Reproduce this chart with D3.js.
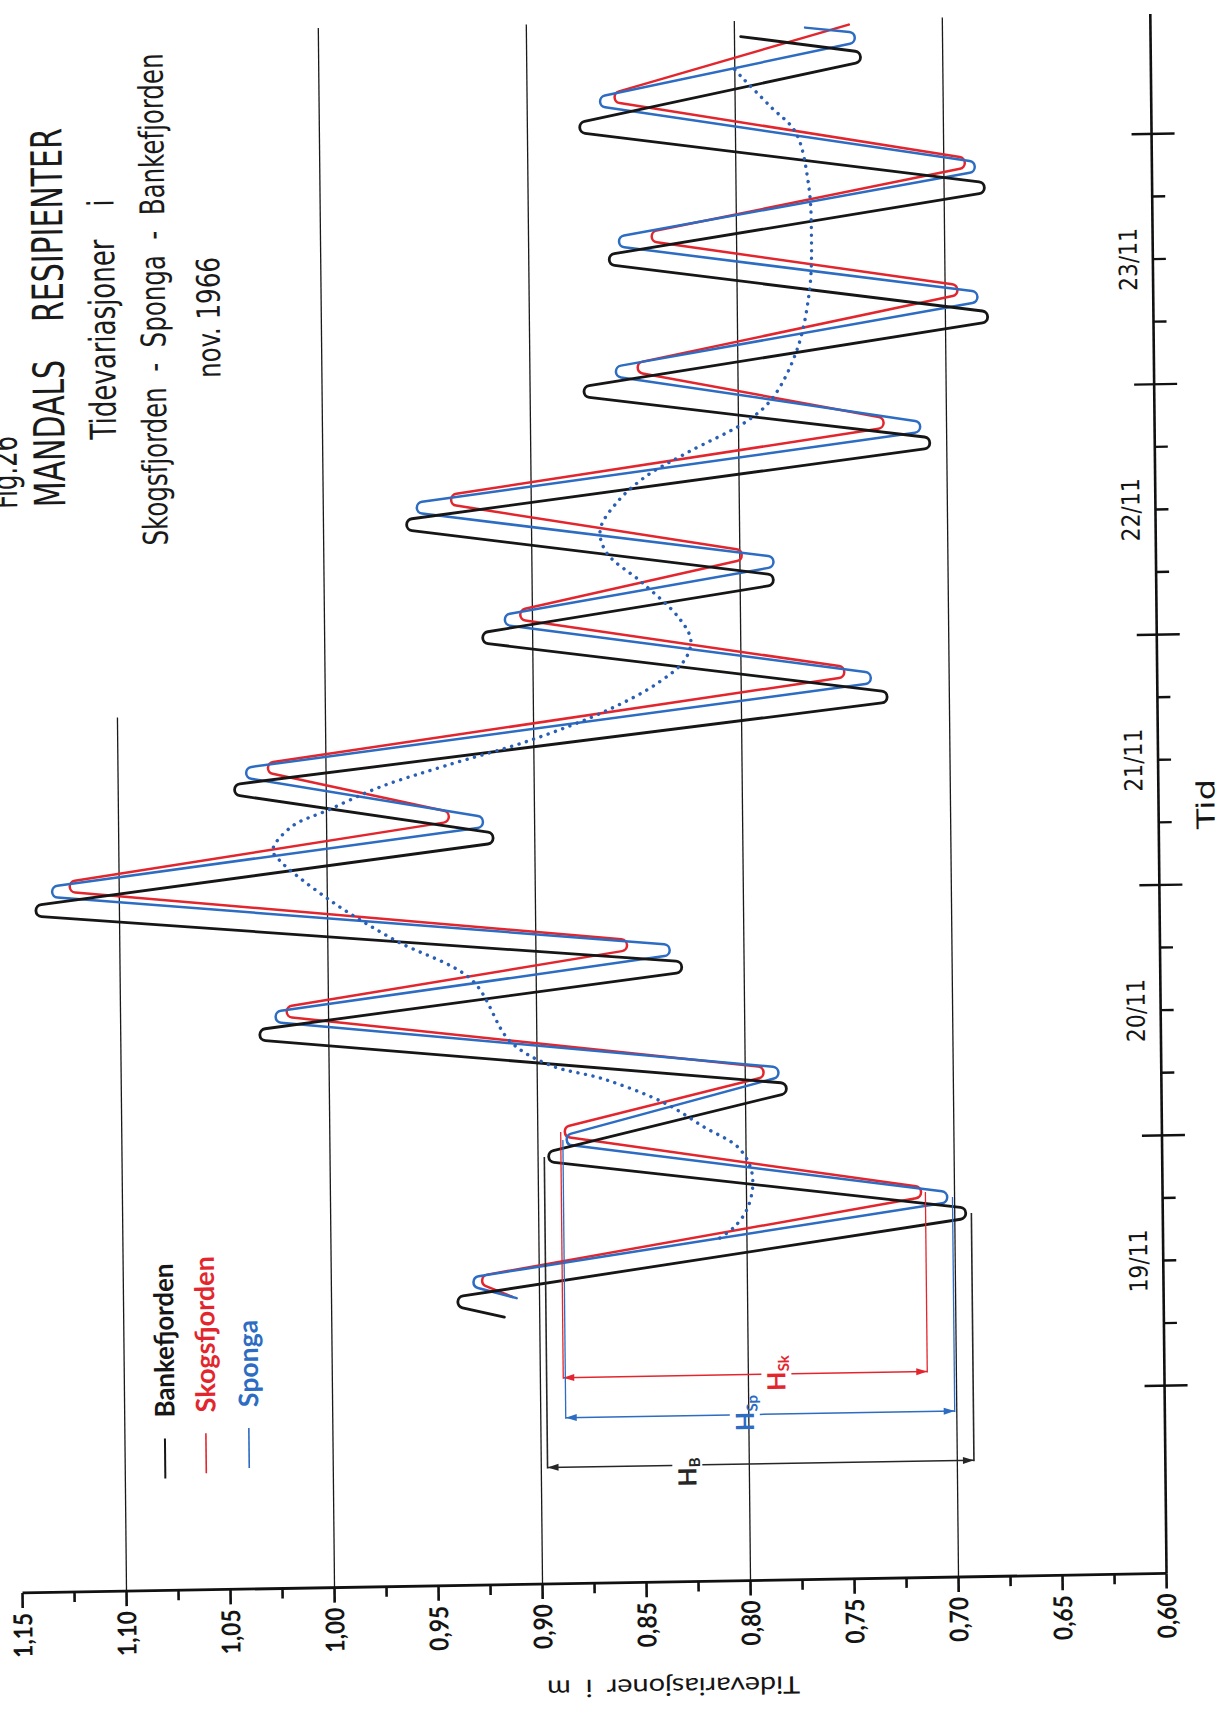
<!DOCTYPE html>
<html>
<head>
<meta charset="utf-8">
<title>Mandals resipienter - tidevariasjoner</title>
<script src="https://cdn.jsdelivr.net/npm/d3@7"></script>
<style>
  html, body { margin: 0; padding: 0; background: #fff; }
  svg { display: block; }
  text.pre { white-space: pre; }
</style>
</head>
<body>
<div id="chart"></div>
<script>
// ===============================================
// Tidevariasjoner i Skogsfjorden - Sponga - Bankefjorden, nov. 1966
// (the sheet is drawn turned: level runs across, time runs upwards)
// ===============================================

// Bankefjorden (black): turning points of the tide curve
const bankeTimes = ["19/11 07:39", "19/11 09:11", "19/11 16:52", "19/11 22:56", "20/11 05:08",
  "20/11 11:06", "20/11 16:55", "20/11 23:21", "21/11 05:35", "21/11 10:38", "21/11 18:28",
  "22/11 00:48", "22/11 05:52", "22/11 11:45", "22/11 18:45", "23/11 00:13", "23/11 06:44",
  "23/11 12:50", "23/11 19:07", "24/11 01:32", "24/11 07:52", "24/11 10:00"];
const bankeLevels = [0.917, 0.942, 0.692, 0.897, 0.778, 1.037, 0.826, 1.144, 0.917, 1.047, 0.727,
  0.927, 0.781, 0.963, 0.705, 0.877, 0.677, 0.864, 0.678, 0.877, 0.737, 0.797];

// Skogsfjorden (red)
const skogsTimes = ["19/11 09:34", "19/11 11:15", "19/11 18:57", "20/11 01:18", "20/11 06:43",
  "20/11 13:16", "20/11 19:07", "21/11 01:36", "21/11 07:41", "21/11 12:41", "21/11 20:56",
  "22/11 02:56", "22/11 08:19", "22/11 14:05", "22/11 20:44", "23/11 02:26", "23/11 09:22",
  "23/11 14:58", "23/11 21:32", "24/11 04:21", "24/11 10:58"];
const skogsLevels = [0.913, 0.929, 0.714, 0.889, 0.789, 1.023, 0.853, 1.127, 0.939, 1.030, 0.748,
  0.908, 0.797, 0.941, 0.728, 0.850, 0.692, 0.843, 0.688, 0.859, 0.745];

// Sponga (blue)
const spongaTimes = ["19/11 09:27", "19/11 11:04", "19/11 18:26", "20/11 00:32", "20/11 06:41",
  "20/11 12:48", "20/11 18:34", "21/11 01:09", "21/11 07:08", "21/11 12:14", "21/11 20:19",
  "22/11 02:29", "22/11 07:36", "22/11 13:22", "22/11 20:18", "23/11 02:05", "23/11 08:40",
  "23/11 14:33", "23/11 21:08", "24/11 04:00", "24/11 09:47", "24/11 10:45"];
const spongaLevels = [0.911, 0.934, 0.701, 0.888, 0.782, 1.029, 0.832, 1.136, 0.922, 1.041, 0.735,
  0.916, 0.781, 0.958, 0.710, 0.861, 0.682, 0.859, 0.683, 0.867, 0.738, 0.766];

// mean level (blue dotted)
const meanTimes = ["19/11 14:53", "19/11 15:55", "19/11 17:31", "19/11 19:43", "19/11 21:38",
  "19/11 23:35", "20/11 01:32", "20/11 03:55", "20/11 06:18", "20/11 07:44", "20/11 10:06",
  "20/11 16:01", "20/11 19:59", "20/11 23:55", "21/11 03:50", "21/11 04:48", "21/11 06:59",
  "21/11 08:33", "21/11 10:40", "21/11 12:34", "21/11 14:56", "21/11 17:41", "21/11 20:11",
  "21/11 22:21", "22/11 00:16", "22/11 02:29", "22/11 05:48", "22/11 08:44", "22/11 10:57",
  "22/11 13:31", "22/11 15:58", "22/11 18:11", "22/11 21:15", "22/11 23:26", "23/11 04:10",
  "23/11 09:54", "23/11 14:42", "23/11 19:29", "24/11 00:42", "24/11 03:14", "24/11 06:10",
  "24/11 06:50"];
const meanLevels = [0.813, 0.806, 0.800, 0.797, 0.798, 0.804, 0.820, 0.839, 0.868, 0.894, 0.913,
  0.931, 0.968, 0.999, 1.023, 1.026, 1.017, 0.999, 0.974, 0.943, 0.901, 0.864, 0.840,
  0.827, 0.824, 0.830, 0.847, 0.864, 0.867, 0.859, 0.845, 0.825, 0.795, 0.783, 0.771,
  0.765, 0.764, 0.765, 0.771, 0.783, 0.797, 0.800];

const seriesNames = ["Bankefjorden", "Skogsfjorden", "Sponga"];
const hSubscripts = ["B", "Sk", "Sp"];
const hPair = [2, 3];                       // low / high used for the H ranges (19/11)
const gridLevels = [1.10, 1.00, 0.90, 0.80, 0.70];
const levelDomain = [1.15, 0.60];
const dayLabels = ["19/11", "20/11", "21/11", "22/11", "23/11"];
const titleTexts = ["Fig.26", "MANDALS    RESIPIENTER", "Tidevariasjoner    i",
  "Skogsfjorden  -  Sponga  -  Bankefjorden", "nov. 1966"];

(function() {
  'use strict';

  const width = 1226;
  const height = 1714;
  const parseTime = d3.timeParse("%d/%m %H:%M");

  const narrow = "'Liberation Sans Narrow', 'DejaVu Sans Condensed', 'Liberation Sans', sans-serif";
  const round = "Lato, 'Liberation Sans', sans-serif";
  const colors = { Bankefjorden: "#161616", Skogsfjorden: "#e3262d", Sponga: "#2c6cc2" };

  // Scales (value across the sheet, time upwards)
  const x = d3.scaleLinear().domain(levelDomain).range([15, 1159]);
  const y = d3.scaleTime()
    .domain([parseTime("19/11 00:00"), parseTime("24/11 00:00")])
    .range([1395.2, 143.4]);

  const axisY = y(parseTime("18/11 06:00"));
  const axisTop = y(parseTime("24/11 11:30"));
  const timeX = x(levelDomain[1]);

  const svg = d3.select("#chart")
    .append("svg")
    .attr("width", width)
    .attr("height", height)
    .attr("viewBox", [0, 0, width, height]);

  svg.append("rect").attr("width", width).attr("height", height).attr("fill", "#fff");

  // the scanned sheet sits slightly skewed
  const g = svg.append("g")
    .attr("transform", "translate(600,860) matrix(1,-0.017,0.0104,1,0,0) translate(-600,-860)");

  // Hairpin curve: straight runs, small round turn that touches each turning point
  function Hairpin(context, r) { this._context = context; this._r = r; }
  Hairpin.prototype = {
    areaStart() {}, areaEnd() {},
    lineStart() { this._pts = []; },
    point(px, py) { this._pts.push([+px, +py]); },
    lineEnd() {
      const p = this._pts, n = p.length, r = this._r, ctx = this._context;
      if (!n) return;
      const c = p.map((pt, i) => {
        if (i === 0 || i === n - 1) return pt;
        let ux = p[i - 1][0] - pt[0], uy = p[i - 1][1] - pt[1];
        let vx = p[i + 1][0] - pt[0], vy = p[i + 1][1] - pt[1];
        const ul = Math.hypot(ux, uy), vl = Math.hypot(vx, vy);
        ux /= ul; uy /= ul; vx /= vl; vy /= vl;
        let bx = ux + vx, by = uy + vy;
        const bl = Math.hypot(bx, by);
        if (bl < 1e-6) return pt;
        bx /= bl; by /= bl;
        const half = Math.acos(Math.max(-1, Math.min(1, ux * vx + uy * vy))) / 2;
        const d = r / Math.sin(half) - r;
        return [pt[0] - bx * d, pt[1] - by * d];
      });
      ctx.moveTo(c[0][0], c[0][1]);
      for (let i = 1; i < n - 1; i++) ctx.arcTo(c[i][0], c[i][1], c[i + 1][0], c[i + 1][1], r);
      if (n > 1) ctx.lineTo(c[n - 1][0], c[n - 1][1]);
    }
  };
  const curveHairpin = r => context => new Hairpin(context, r);

  // Grid lines
  g.append("g")
    .selectAll("line")
    .data(gridLevels)
    .join("line")
    .attr("x1", d => x(d)).attr("x2", d => x(d))
    .attr("y1", d => d > 1.05 ? y(parseTime("21/11 17:45")) : axisTop)
    .attr("y2", axisY)
    .attr("stroke", "#1a1a1a")
    .attr("stroke-width", 1.3);

  // Level axis
  const levelTicks = d3.range(0, 23).map(i => +(0.60 + i * 0.025).toFixed(3));
  const isMajor = v => Math.round(v * 1000) % 50 === 0;
  const fmt = v => d3.format(".2f")(v).replace(".", ",");

  const ax = g.append("g");
  ax.append("line")
    .attr("x1", x(levelDomain[0])).attr("x2", x(levelDomain[1]))
    .attr("y1", axisY).attr("y2", axisY)
    .attr("stroke", "#111").attr("stroke-width", 2.8);
  ax.selectAll("line.tick")
    .data(levelTicks)
    .join("line")
    .attr("class", "tick")
    .attr("x1", d => x(d)).attr("x2", d => x(d))
    .attr("y1", axisY).attr("y2", d => axisY + (isMajor(d) ? 15 : 10))
    .attr("stroke", "#111").attr("stroke-width", 2.6);
  ax.selectAll("text")
    .data(levelTicks.filter(isMajor))
    .join("text")
    .attr("transform", d => `translate(${x(d)},${axisY + 20}) rotate(-90)`)
    .attr("text-anchor", "end")
    .attr("dy", "0.36em")
    .attr("font-family", round)
    .attr("font-size", 26)
    .attr("font-weight", 700)
    .attr("fill", "#141414")
    .attr("textLength", 45)
    .attr("lengthAdjust", "spacingAndGlyphs")
    .text(fmt);

  g.append("text")
    .attr("class", "pre")
    .attr("transform", `translate(665,${axisY + 105}) rotate(180)`)
    .attr("text-anchor", "middle")
    .attr("dy", "0.35em")
    .attr("font-family", round)
    .attr("font-size", 24)
    .attr("fill", "#141414")
    .attr("textLength", 253)
    .attr("lengthAdjust", "spacingAndGlyphs")
    .text("Tidevariasjoner  i  m");

  // Time axis
  const tx = g.append("g");
  tx.append("line")
    .attr("x1", timeX).attr("x2", timeX)
    .attr("y1", axisTop).attr("y2", axisY)
    .attr("stroke", "#111").attr("stroke-width", 2.6);
  const timeTicks = d3.timeHour.every(6).range(parseTime("19/11 00:00"), parseTime("24/11 00:01"));
  tx.selectAll("line.tick")
    .data(timeTicks)
    .join("line")
    .attr("class", "tick")
    .attr("x1", d => d.getHours() === 0 ? timeX - 20 : timeX)
    .attr("x2", d => d.getHours() === 0 ? timeX + 23 : timeX + 13)
    .attr("y1", d => y(d)).attr("y2", d => y(d))
    .attr("stroke", "#111").attr("stroke-width", 2.4);
  tx.selectAll("text")
    .data(dayLabels)
    .join("text")
    .attr("transform", d => `translate(${timeX - 25},${y(d3.timeHour.offset(parseTime(d + " 00:00"), 12))}) rotate(-90)`)
    .attr("text-anchor", "middle")
    .attr("dy", "0.36em")
    .attr("font-family", narrow)
    .attr("font-size", 25)
    .attr("fill", "#141414")
    .attr("textLength", 63)
    .attr("lengthAdjust", "spacingAndGlyphs")
    .text(d => d);
  tx.append("text")
    .attr("transform", `translate(${timeX + 47},${y(parseTime("21/11 07:40"))}) rotate(-90)`)
    .attr("text-anchor", "middle")
    .attr("dy", "0.36em")
    .attr("font-family", narrow)
    .attr("font-size", 25)
    .attr("fill", "#141414")
    .attr("textLength", 50)
    .attr("lengthAdjust", "spacingAndGlyphs")
    .text("Tid");

  // Title block
  const titleLayout = [
    { x: 21, y: 499, size: 36, len: 73, adjust: "spacingAndGlyphs" },
    { x: 69, y: 498, size: 43, len: 379, adjust: "spacingAndGlyphs" },
    { x: 120.5, y: 431, size: 36, len: 240, adjust: "spacingAndGlyphs" },
    { x: 171, y: 538, size: 34, len: 492, adjust: "spacingAndGlyphs" },
    { x: 225.5, y: 371.5, size: 32, len: 121, adjust: "spacingAndGlyphs" }
  ];
  g.append("g")
    .selectAll("text")
    .data(titleTexts)
    .join("text")
    .attr("class", "pre")
    .attr("transform", (d, i) => `translate(${titleLayout[i].x},${titleLayout[i].y}) rotate(-90)`)
    .attr("font-family", narrow)
    .attr("font-size", (d, i) => titleLayout[i].size)
    .attr("fill", "#1a1a1a")
    .attr("textLength", (d, i) => titleLayout[i].len)
    .attr("lengthAdjust", (d, i) => titleLayout[i].adjust)
    .text(d => d);

  // Series
  const series = [
    { name: "Skogsfjorden", times: skogsTimes, levels: skogsLevels, width: 2.5 },
    { name: "Sponga", times: spongaTimes, levels: spongaLevels, width: 2.5 },
    { name: "Bankefjorden", times: bankeTimes, levels: bankeLevels, width: 2.8 }
  ].map(s => Object.assign(s, {
    points: s.times.map((t, i) => ({ time: parseTime(t), level: s.levels[i] }))
  }));

  const line = d3.line()
    .x(d => x(d.level))
    .y(d => y(d.time))
    .curve(curveHairpin(6));

  g.append("g")
    .selectAll("path")
    .data(series)
    .join("path")
    .attr("d", d => line(d.points))
    .attr("fill", "none")
    .attr("stroke", d => colors[d.name])
    .attr("stroke-width", d => d.width)
    .attr("stroke-linejoin", "round")
    .attr("stroke-linecap", "round");

  // Mean level, dotted
  const meanPoints = meanTimes.map((t, i) => ({ time: parseTime(t), level: meanLevels[i] }));
  g.append("path")
    .attr("d", d3.line().x(d => x(d.level)).y(d => y(d.time)).curve(d3.curveCatmullRom.alpha(0.5))(meanPoints))
    .attr("fill", "none")
    .attr("stroke", "#2a5fb6")
    .attr("stroke-width", 3.4)
    .attr("stroke-linecap", "round")
    .attr("stroke-dasharray", "0.1 7.6");

  // H ranges (tidal range on 19/11)
  const hLayout = {
    Bankefjorden: { arrowY: 1466.5, lx: 681, ly: 1473.5 },
    Sponga: { arrowY: 1417, lx: 739, ly: 1415.5 },
    Skogsfjorden: { arrowY: 1377, lx: 771, ly: 1376 }
  };
  const hg = g.append("g");
  series.forEach(s => {
    const L = hLayout[s.name];
    const col = s.name === "Bankefjorden" ? "#262626" : colors[s.name];
    const lo = s.points[hPair[0]], hi = s.points[hPair[1]];
    const xa = x(hi.level), xb = x(lo.level);
    [hi, lo].forEach(p => {
      hg.append("line")
        .attr("x1", x(p.level)).attr("x2", x(p.level))
        .attr("y1", y(p.time)).attr("y2", L.arrowY + 1)
        .attr("stroke", col)
        .attr("stroke-width", s.name === "Bankefjorden" ? 1.6 : 1.3);
    });
    [[xa, L.lx - 15], [L.lx + 15, xb]].forEach(seg => {
      hg.append("line")
        .attr("x1", seg[0]).attr("x2", seg[1])
        .attr("y1", L.arrowY).attr("y2", L.arrowY)
        .attr("stroke", col).attr("stroke-width", 1.5);
    });
    hg.append("path")
      .attr("d", `M${xa},${L.arrowY}l11,-3.5v7z M${xb},${L.arrowY}l-11,-3.5v7z`)
      .attr("fill", col);
    const sub = hSubscripts[seriesNames.indexOf(s.name)];
    const t = hg.append("text")
      .attr("transform", `translate(${L.lx},${L.ly}) rotate(-90)`)
      .attr("text-anchor", "middle")
      .attr("dy", "0.36em")
      .attr("font-family", round)
      .attr("font-weight", 700)
      .attr("font-size", 25)
      .attr("fill", col);
    t.append("tspan").text("H");
    t.append("tspan").attr("font-size", 15).attr("dy", "0.25em").text(sub);
  });

  // Legend
  const lg = g.append("g");
  const legendX = [159, 200, 243];
  const legendLen = [154, 156, 87];
  seriesNames.forEach((name, i) => {
    const base = 1410 - 4.5 * i;
    lg.append("line")
      .attr("x1", legendX[i]).attr("x2", legendX[i])
      .attr("y1", base + 21).attr("y2", base + 61)
      .attr("stroke", colors[name])
      .attr("stroke-width", i === 0 ? 2 : 1.6);
    lg.append("text")
      .attr("transform", `translate(${legendX[i]},${base}) rotate(-90)`)
      .attr("dy", "0.36em")
      .attr("font-family", round)
      .attr("font-weight", 700)
      .attr("font-size", 27)
      .attr("fill", colors[name])
      .attr("textLength", legendLen[i])
      .attr("lengthAdjust", "spacingAndGlyphs")
      .text(name);
  });
})();
</script>
</body>
</html>
